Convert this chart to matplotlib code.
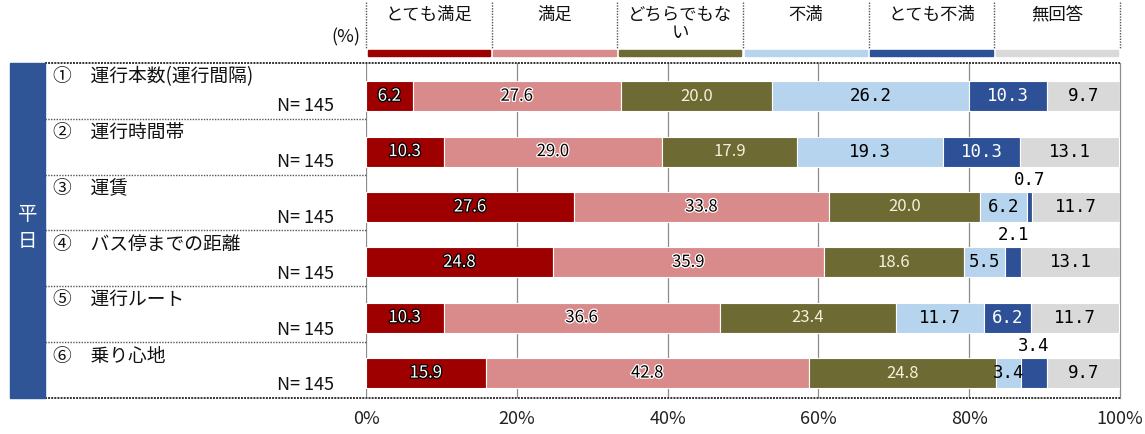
import matplotlib
matplotlib.use("Agg")
import matplotlib.pyplot as plt
import matplotlib.patheffects as pe
from matplotlib.patches import Rectangle
from matplotlib.lines import Line2D
from matplotlib.transforms import blended_transform_factory
import numpy as np

plt.rcParams['font.family'] = ['Noto Sans CJK JP', 'DejaVu Sans']

# --- data -------------------------------------------------------------
items = ["①\u3000運行本数(運行間隔)", "②\u3000運行時間帯", "③\u3000運賃",
         "④\u3000バス停までの距離", "⑤\u3000運行ルート", "⑥\u3000乗り心地"]
n_labels = ["N= 145"] * 6
responses = ["とても満足", "満足", "どちらでもない", "不満", "とても不満", "無回答"]
header_labels = ["とても満足", "満足", "どちらでもな\nい", "不満", "とても不満", "無回答"]

very_satisfied = [6.2, 10.3, 27.6, 24.8, 10.3, 15.9]
satisfied = [27.6, 29.0, 33.8, 35.9, 36.6, 42.8]
neutral = [20.0, 17.9, 20.0, 18.6, 23.4, 24.8]
dissatisfied = [26.2, 19.3, 6.2, 5.5, 11.7, 3.4]
very_dissatisfied = [10.3, 10.3, 0.7, 2.1, 6.2, 3.4]
no_answer = [9.7, 13.1, 11.7, 13.1, 11.7, 9.7]

x_ticks = [0, 20, 40, 60, 80, 100]
x_tick_labels = ["0%", "20%", "40%", "60%", "80%", "100%"]
group_label = "平日"

# --- styling ----------------------------------------------------------
colors = ["#9E0000", "#D98B8B", "#6D6A34", "#B6D4EE", "#2D5096", "#D9D9D9"]
text_colors = ["white", "black", "#F4F1D8", "black", "white", "black"]
W, H = 1145, 434

series = [very_satisfied, satisfied, neutral, dissatisfied, very_dissatisfied, no_answer]

fig = plt.figure(figsize=(W / 100, H / 100), dpi=100)
ax_left, ax_right = 366 / W, 1120 / W
ax_top, ax_bot = 1 - 63 / H, 1 - 398 / H
ax = fig.add_axes([ax_left, ax_bot, ax_right - ax_left, ax_top - ax_bot])

y = np.arange(len(items))
bar_h = 0.54
left = np.zeros(len(items))
for k, (vals, col, tcol) in enumerate(zip(series, colors, text_colors)):
    vals = np.array(vals)
    ax.barh(y, vals, left=left, height=bar_h, color=col,
            edgecolor="white", linewidth=0.8, zorder=3)
    for i, v in enumerate(vals):
        cx = left[i] + v / 2
        txt = f"{v:.1f}"
        if k == 4 and v < 5:
            # narrow segments get their value above the bar
            ax.text(cx, y[i] - bar_h / 2 - 0.22, txt, ha="center", va="center",
                    fontsize=12.5, color="black", zorder=5,
                    family="DejaVu Sans Mono")
            continue
        effects = None
        if k == 0:
            effects = [pe.withStroke(linewidth=1.8, foreground="black")]
        elif k == 1:
            effects = [pe.withStroke(linewidth=1.8, foreground="white")]
        if k <= 2:
            ax.text(cx, y[i], txt, ha="center", va="center", fontsize=12,
                    color=tcol, zorder=5, path_effects=effects)
        else:
            ax.text(cx, y[i], txt, ha="center", va="center", fontsize=12.5,
                    color=tcol, zorder=5, family="DejaVu Sans Mono")
    left += vals

ax.set_xlim(0, 100)
ax.set_ylim(5.45, -0.6)
ax.set_yticks([])
ax.set_xticks(x_ticks)
ax.set_xticklabels(x_tick_labels, fontsize=13, color="#222222")
ax.tick_params(axis="x", length=0, pad=9)
for xv in x_ticks[:-1]:
    ax.axvline(xv, color="#8C8C8C", linewidth=0.9, zorder=1)
for s in ["left", "top", "bottom"]:
    ax.spines[s].set_visible(False)
ax.spines["right"].set_color("#8C8C8C")
ax.spines["right"].set_linewidth(0.9)

# --- left panel (row labels) -----------------------------------------
tr_fy = blended_transform_factory(fig.transFigure, ax.transData)
row_top = -0.6
pitch = (5.45 - row_top) / 6
for i, (name, nlab) in enumerate(zip(items, n_labels)):
    ytop = row_top + i * pitch
    fig.text(53 / W, 0, name, transform=tr_fy, fontsize=13.5, ha="left", va="center",
             color="#111111").set_y(ytop + 0.25)
    fig.text(334 / W, 0, nlab, transform=tr_fy, fontsize=13, ha="right", va="center",
             color="#111111").set_y(ytop + 0.78)
    if i > 0:
        fig.add_artist(Line2D([45 / W, 366 / W], [ytop, ytop], transform=tr_fy,
                              color="#555555", linewidth=1.0, linestyle=(0, (1, 1))))

# top and bottom frame lines
for yy in (63, 398):
    fig.add_artist(Line2D([45 / W, 1120 / W], [1 - yy / H, 1 - yy / H],
                          color="#333333", linewidth=1.4, linestyle=(0, (1, 0.6))))

# group band
fig.add_artist(Rectangle((10 / W, 1 - 398 / H), 35 / W, 335 / H,
                         transform=fig.transFigure, color="#2F5597", zorder=2))
for ch, yy in zip(group_label, (214, 241)):
    fig.text(27.5 / W, 1 - yy / H, ch, ha="center", va="center", fontsize=14,
             color="white", zorder=3)

# --- header legend ----------------------------------------------------
tr_xf = blended_transform_factory(ax.transData, fig.transFigure)
col_w = 100 / 6
for k, (lab, col) in enumerate(zip(header_labels, colors)):
    x0 = k * col_w
    fig.add_artist(Rectangle((x0 + 0.2, 1 - 56 / H), col_w - 0.4, 6 / H,
                             transform=tr_xf, color=col, zorder=2))
    fig.text(x0 + col_w / 2, 1 - 6 / H, lab, transform=tr_xf, ha="center", va="top",
             fontsize=12.5, color="#111111", linespacing=1.0)
for k in range(7):
    fig.add_artist(Line2D([k * col_w, k * col_w], [1 - 2 / H, 1 - 48 / H],
                          transform=tr_xf, color="#555555", linewidth=1.0,
                          linestyle=(0, (1, 1))))
fig.text(360 / W, 1 - 37 / H, "(%)", ha="right", va="center", fontsize=13,
         color="#111111")

fig.savefig("out.png", dpi=100)
